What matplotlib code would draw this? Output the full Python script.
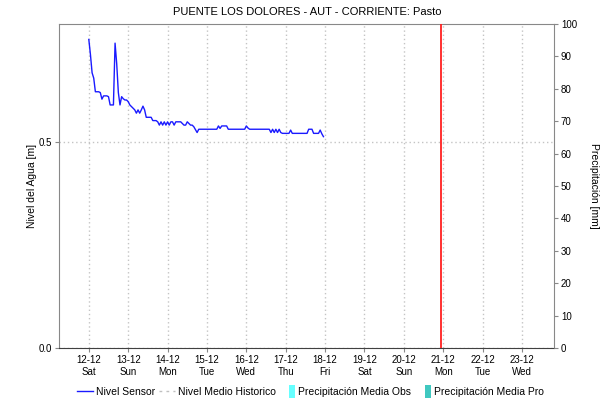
import matplotlib.pyplot as plt
import matplotlib.dates as mdates
from matplotlib.lines import Line2D
from matplotlib.patches import Patch, Rectangle
from matplotlib.legend_handler import HandlerPatch
from matplotlib.ticker import MultipleLocator, FormatStrFormatter
import pandas as pd

plt.rcParams['font.family'] = ['Liberation Sans', 'DejaVu Sans']

titulo = "PUENTE LOS DOLORES - AUT - CORRIENTE: Pasto"
inicio = "2020-12-12 00:00"   # primera lectura horaria del sensor
hora_actual = "2020-12-20 22:50"
rango_x = ("2020-12-11 05:50", "2020-12-23 19:30")

# nivel del sensor, una lectura por hora [m]
nivel_sensor = [
    0.749, 0.712, 0.668, 0.655, 0.622, 0.622, 0.622, 0.620, 0.604, 0.612,
    0.612, 0.612, 0.610, 0.590, 0.590, 0.590, 0.740, 0.690, 0.620, 0.590,
    0.610, 0.605, 0.602, 0.602, 0.598, 0.590, 0.586, 0.582, 0.578, 0.570,
    0.578, 0.570, 0.578, 0.587, 0.578, 0.560, 0.560, 0.560, 0.560, 0.552,
    0.552, 0.552, 0.549, 0.541, 0.549, 0.541, 0.549, 0.541, 0.549, 0.541,
    0.549, 0.549, 0.541, 0.549, 0.549, 0.549, 0.549, 0.545, 0.541, 0.541,
    0.549, 0.545, 0.541, 0.541, 0.537, 0.530, 0.523, 0.531, 0.531, 0.531,
    0.531, 0.531, 0.531, 0.531, 0.531, 0.531, 0.531, 0.531, 0.531, 0.539,
    0.533, 0.539, 0.539, 0.539, 0.539, 0.531, 0.531, 0.531, 0.531, 0.531,
    0.531, 0.531, 0.531, 0.531, 0.531, 0.531, 0.539, 0.534, 0.531, 0.531,
    0.531, 0.531, 0.531, 0.531, 0.531, 0.531, 0.531, 0.531, 0.531, 0.531,
    0.531, 0.523, 0.531, 0.523, 0.531, 0.523, 0.531, 0.523, 0.521, 0.521,
    0.521, 0.521, 0.521, 0.529, 0.521, 0.521, 0.521, 0.521, 0.521, 0.521,
    0.521, 0.521, 0.521, 0.521, 0.531, 0.531, 0.531, 0.521, 0.521, 0.521,
    0.521, 0.529, 0.520, 0.513,
]
fechas = pd.date_range(inicio, periods=len(nivel_sensor), freq="h")

nombres_leyenda = ["Nivel Sensor", "Nivel Medio Historico",
                   "Precipitación Media Obs", "Precipitación Media Pro"]
color_sensor = "#1a1aff"
color_historico = "#c0c0c0"
color_obs = "#66ffff"
color_pro = "#40c8c0"
color_borde = "#888888"
color_grilla = "#c4c4c4"


def barra_estrecha(legend, orig_handle, xdescent, ydescent, width, height, fontsize):
    return Rectangle((-xdescent + width - 4.5, -ydescent - 1.8), 4.5, height + 3.6)


fig = plt.figure(figsize=(6.15, 4.05), dpi=100)
ax = fig.add_axes([59 / 615, 57 / 405, 495 / 615, 324 / 405])

ax.plot(fechas, nivel_sensor, color=color_sensor, lw=1.0, zorder=3)
ax.axvline(pd.Timestamp(hora_actual), color="#ff2020", lw=1.3, zorder=4)

ax.set_xlim(pd.Timestamp(rango_x[0]), pd.Timestamp(rango_x[1]))
ax.set_ylim(0, max(nivel_sensor) * 1.05)
ax.yaxis.set_major_locator(MultipleLocator(0.5))
ax.yaxis.set_major_formatter(FormatStrFormatter("%.1f"))
ax.xaxis.set_major_locator(mdates.DayLocator())
ax.xaxis.set_major_formatter(mdates.DateFormatter("%d-%m\n%a"))

ax.grid(True, color=color_grilla, linestyle=(0, (1, 2)), lw=1.0)
ax.set_axisbelow(True)
ax.tick_params(axis="both", labelsize=7, length=3, color=color_borde, pad=2)
for lado in ["left", "right", "top"]:
    ax.spines[lado].set_color(color_borde)
ax.spines["bottom"].set_color("#404040")
ax.spines["bottom"].set_linestyle((0, (1, 1)))

ax.set_ylabel("Nivel del Agua [m]", fontsize=7.5)
ax.yaxis.set_label_coords(-0.044, 0.5)

ax2 = ax.twinx()
ax2.set_ylim(0, 100)
ax2.yaxis.set_major_locator(MultipleLocator(10))
ax2.tick_params(axis="y", labelsize=7, length=3, color=color_borde, pad=2)
for lado in ["left", "right", "top", "bottom"]:
    ax2.spines[lado].set_visible(False)
ax2.set_ylabel("Precipitación [mm]", fontsize=7.5, rotation=270)
ax2.yaxis.set_label_coords(1.091, 0.5)

fig.text(0.5, 1 - 12 / 405, titulo, ha="center", va="center", fontsize=8)

manejadores = [
    Line2D([], [], color=color_sensor, lw=1.0),
    Line2D([], [], color=color_historico, lw=1.0, linestyle=(0, (2, 3))),
    Patch(facecolor=color_obs),
    Patch(facecolor=color_pro),
]
fig.legend(manejadores, nombres_leyenda, loc="center", bbox_to_anchor=(0.505, 13 / 405),
           ncol=4, frameon=False, fontsize=7.5, handlelength=1.5, handletextpad=0.3,
           columnspacing=0.4, borderaxespad=0,
           handler_map={Patch: HandlerPatch(patch_func=barra_estrecha)})

fig.savefig("out.png", dpi=100)
plt.close(fig)
